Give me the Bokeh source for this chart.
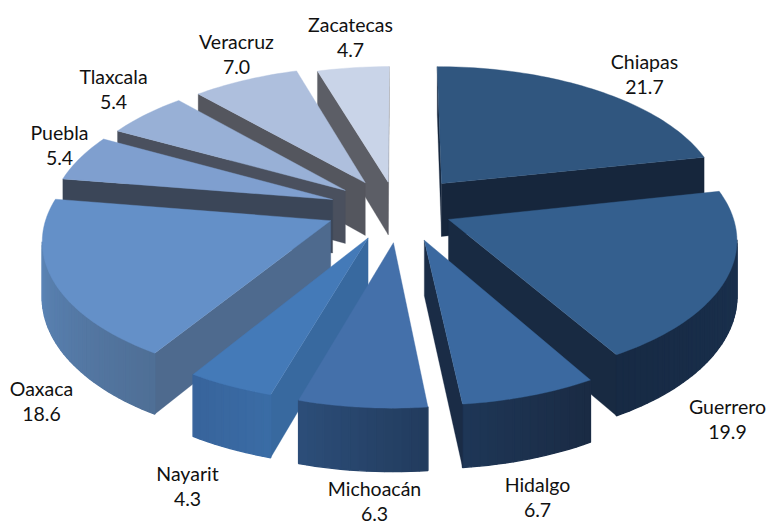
import math
from bokeh.plotting import figure
from bokeh.models import Range1d, ColumnDataSource
from bokeh.core.properties import value
from bokeh.embed import file_html
from bokeh.resources import INLINE

states = ["Chiapas", "Guerrero", "Hidalgo", "Michoacán", "Nayarit", "Oaxaca", "Puebla", "Tlaxcala", "Veracruz", "Zacatecas"]
shares = [21.7, 19.9, 6.7, 6.3, 4.3, 18.6, 5.4, 5.4, 7.0, 4.7]

# styles
top_col = ["#30567f", "#345f8e", "#3b69a0", "#4470aa", "#447ab8", "#6490c8", "#7f9fcf", "#98b0d6", "#aebfdd", "#c9d4e8"]
face_col = ["#16263c", "#182a42", "#1a2c46", "#1e3354", "#38699f", "#4e6a8e", "#3b4658", "#4a505e", "#54565e", "#5c5e66"]
rim_a = ["#1b3352", "#1b3352", "#1a2b44", "#223c5e", "#3a6ca5", "#4f6f96", "#6c8dc0", "#7f9fcf", "#98b0d6", "#aebfdd"]
rim_b = ["#172b45", "#172a44", "#1e3656", "#2c4d78", "#38649c", "#5f8cc2", "#6c8dc0", "#7f9fcf", "#98b0d6", "#aebfdd"]
label_x = [644, 727, 537, 374, 187, 41, 59, 113, 236, 350]
label_y = [61, 406, 484, 488, 473, 388, 132, 76, 41, 24]
nudge_x = [6, -7, 8, 4, 0, -5, -2, 0, 1, 2]
nudge_y = [-2, -3, 0, 1, -1, -2, 0, 0, 0, 3]
LINE = 25

CX, CY, A, B, K, H, EXPLODE = 395, 209, 282, 136.7, 0.122, 54, 0.23


def project(x, y, z=0.0):
    w = 1 + K * y
    return CX + A * x / w, CY - B * y / w + H * z / w


def mix(c1, c2, t):
    a = [int(c1[i:i + 2], 16) for i in (1, 3, 5)]
    b = [int(c2[i:i + 2], 16) for i in (1, 3, 5)]
    return "#%02x%02x%02x" % tuple(round(u + (v - u) * t) for u, v in zip(a, b))


def area(q):
    return sum(q[i][0] * q[(i + 1) % len(q)][1] - q[(i + 1) % len(q)][0] * q[i][1] for i in range(len(q)))


total = sum(shares)
slices, cum = [], 0.0
for i, s in enumerate(shares):
    a0 = 2 * math.pi * cum / total
    a1 = 2 * math.pi * (cum + s) / total
    cum += s
    slices.append((math.cos((a0 + a1) / 2), i, a0, a1))

xs, ys, cols, lws = [], [], [], []


def add(poly, col, lw, i):
    xs.append([p[0] + nudge_x[i] for p in poly])
    ys.append([p[1] + nudge_y[i] for p in poly])
    cols.append(col)
    lws.append(lw)


for _, i, a0, a1 in sorted(slices, key=lambda t: -t[0]):
    mid = (a0 + a1) / 2
    ox, oy = EXPLODE * math.sin(mid), EXPLODE * math.cos(mid)
    n = max(4, int((a1 - a0) * 40))
    outline = [(ox, oy)] + [(ox + math.sin(a0 + (a1 - a0) * k / n), oy + math.cos(a0 + (a1 - a0) * k / n)) for k in range(n + 1)]
    m = len(outline)
    for j in range(m):
        p, q = outline[j], outline[(j + 1) % m]
        quad = [project(*p), project(*q), project(*q, 1), project(*p, 1)]
        if area(quad) < 0:
            radial = j == 0 or j == m - 1
            col = face_col[i] if radial else mix(rim_a[i], rim_b[i], (j - 1) / max(1, n - 1))
            add(quad, col, 0.3 if radial else 1.4, i)
    add([project(*p) for p in outline], top_col[i], 0.4, i)

p = figure(width=768, height=525, x_range=Range1d(0, 768), y_range=Range1d(525, 0),
           output_backend="svg", toolbar_location=None, min_border=0, outline_line_color=None)
p.axis.visible = False
p.grid.visible = False
src = ColumnDataSource(dict(xs=xs, ys=ys, c=cols, lw=lws))
p.patches("xs", "ys", source=src, fill_color="c", line_color="c", line_width="lw")

tx, ty, tt = [], [], []
for n, v, x, y in zip(states, shares, label_x, label_y):
    tx += [x, x]
    ty += [y, y + LINE]
    tt += [n, f"{v:.1f}"]
p.text(tx, ty, text=tt, text_font=value("Lato"), text_font_size="19.5px", text_color="#111111",
       text_align="center", text_baseline="middle")

open("out.html", "w").write(file_html(p, INLINE))
